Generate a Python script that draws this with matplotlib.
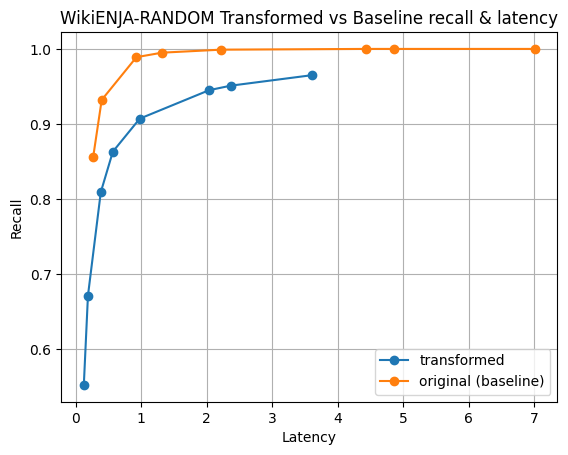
import matplotlib
matplotlib.use("Agg")
import matplotlib.pyplot as plt

# latency / recall readings
transformed_latency = [0.127, 0.19, 0.386, 0.57, 0.98, 2.04, 2.37, 3.61]
transformed_recall = [0.552, 0.671, 0.809, 0.863, 0.907, 0.945, 0.951, 0.965]

baseline_latency = [0.27, 0.40, 0.93, 1.32, 2.22, 4.43, 4.86, 7.01]
baseline_recall = [0.856, 0.932, 0.989, 0.995, 0.999, 1.0, 1.0, 1.0]

fig, ax = plt.subplots()
ax.plot(transformed_latency, transformed_recall, marker="o", label="transformed")
ax.plot(baseline_latency, baseline_recall, marker="o", label="original (baseline)")

ax.set_title("WikiENJA-RANDOM Transformed vs Baseline recall & latency")
ax.set_xlabel("Latency")
ax.set_ylabel("Recall")
ax.grid(True)
ax.legend(loc="lower right")

plt.savefig("out.png", bbox_inches="tight")
